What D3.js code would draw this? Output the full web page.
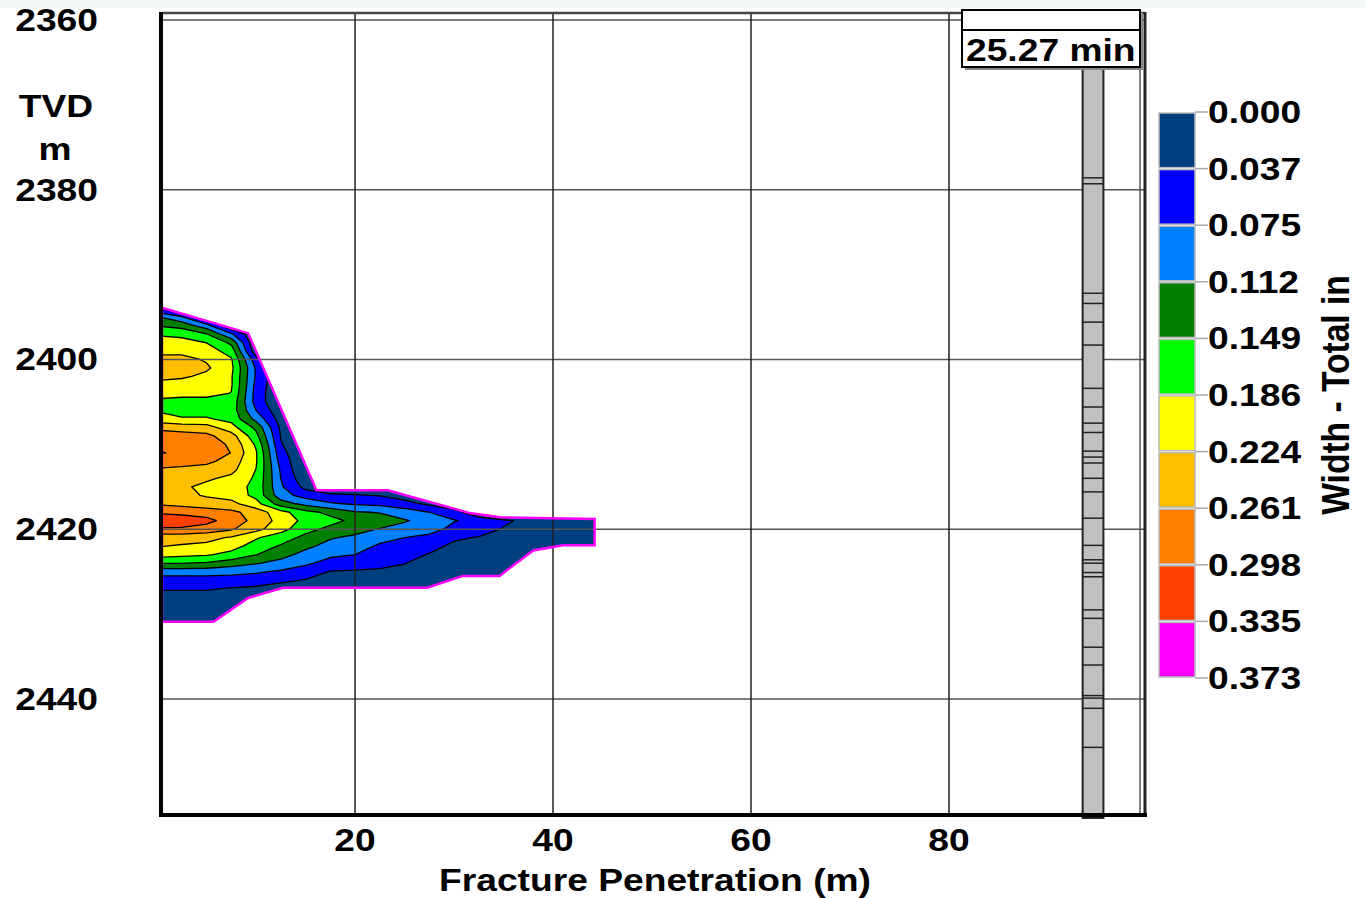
<!DOCTYPE html>
<html>
<head>
<meta charset="utf-8">
<script src="https://cdn.jsdelivr.net/npm/d3@7"></script>
<style>
body { margin: 0; background: #fff; }
text { font-family: "Liberation Sans", Arial, sans-serif; font-weight: bold; fill: #000; }
</style>
</head>
<body>
<svg id="chart" width="1365" height="899"></svg>
<script>
// fracture width grid: columns = penetration (m), rows = TVD (m), values = width (in)
const penetration = [0.5, 2.5, 5, 7.5, 10, 12.5, 15, 17.5, 20, 22.5, 25, 27.5, 30, 32.5, 35, 37.5, 40, 42.5, 45];
const tvdNodes = [2393, 2394, 2395, 2396, 2397, 2398, 2399, 2400, 2401, 2402, 2403, 2404, 2405, 2406, 2407, 2408, 2409, 2410, 2411, 2412,
  2413, 2414, 2415, 2416, 2417, 2418, 2419, 2420, 2421, 2422, 2423, 2424, 2425, 2426, 2427, 2428, 2429, 2430, 2431, 2432];
const widthGrid = [
  [0, 0, 0, 0, 0, 0, 0, 0, 0, 0, 0, 0, 0, 0, 0, 0, 0, 0, 0],
  [0.03, 0, 0, 0, 0, 0, 0, 0, 0, 0, 0, 0, 0, 0, 0, 0, 0, 0, 0],
  [0.11, 0.08, 0, 0, 0, 0, 0, 0, 0, 0, 0, 0, 0, 0, 0, 0, 0, 0, 0],
  [0.145, 0.135, 0.09, 0, 0, 0, 0, 0, 0, 0, 0, 0, 0, 0, 0, 0, 0, 0, 0],
  [0.18, 0.175, 0.15, 0.08, 0, 0, 0, 0, 0, 0, 0, 0, 0, 0, 0, 0, 0, 0, 0],
  [0.205, 0.2, 0.185, 0.14, 0, 0, 0, 0, 0, 0, 0, 0, 0, 0, 0, 0, 0, 0, 0],
  [0.215, 0.215, 0.205, 0.17, 0.01, 0, 0, 0, 0, 0, 0, 0, 0, 0, 0, 0, 0, 0, 0],
  [0.235, 0.235, 0.22, 0.19, 0.05, 0, 0, 0, 0, 0, 0, 0, 0, 0, 0, 0, 0, 0, 0],
  [0.25, 0.245, 0.23, 0.195, 0.07, 0, 0, 0, 0, 0, 0, 0, 0, 0, 0, 0, 0, 0, 0],
  [0.235, 0.23, 0.215, 0.19, 0.07, 0, 0, 0, 0, 0, 0, 0, 0, 0, 0, 0, 0, 0, 0],
  [0.21, 0.205, 0.205, 0.19, 0.065, 0, 0, 0, 0, 0, 0, 0, 0, 0, 0, 0, 0, 0, 0],
  [0.195, 0.195, 0.195, 0.185, 0.06, 0, 0, 0, 0, 0, 0, 0, 0, 0, 0, 0, 0, 0, 0],
  [0.18, 0.175, 0.175, 0.175, 0.06, 0, 0, 0, 0, 0, 0, 0, 0, 0, 0, 0, 0, 0, 0],
  [0.18, 0.17, 0.17, 0.17, 0.075, 0.01, 0, 0, 0, 0, 0, 0, 0, 0, 0, 0, 0, 0, 0],
  [0.2, 0.19, 0.19, 0.175, 0.1, 0.02, 0, 0, 0, 0, 0, 0, 0, 0, 0, 0, 0, 0, 0],
  [0.25, 0.245, 0.24, 0.2, 0.14, 0.03, 0, 0, 0, 0, 0, 0, 0, 0, 0, 0, 0, 0, 0],
  [0.28, 0.275, 0.27, 0.24, 0.16, 0.035, 0, 0, 0, 0, 0, 0, 0, 0, 0, 0, 0, 0, 0],
  [0.285, 0.285, 0.28, 0.255, 0.18, 0.04, 0, 0, 0, 0, 0, 0, 0, 0, 0, 0, 0, 0, 0],
  [0.3, 0.29, 0.285, 0.26, 0.19, 0.05, 0, 0, 0, 0, 0, 0, 0, 0, 0, 0, 0, 0, 0],
  [0.28, 0.28, 0.27, 0.245, 0.19, 0.06, 0, 0, 0, 0, 0, 0, 0, 0, 0, 0, 0, 0, 0],
  [0.255, 0.25, 0.245, 0.235, 0.185, 0.07, 0, 0, 0, 0, 0, 0, 0, 0, 0, 0, 0, 0, 0],
  [0.245, 0.24, 0.23, 0.215, 0.18, 0.075, 0.01, 0, 0, 0, 0, 0, 0, 0, 0, 0, 0, 0, 0],
  [0.24, 0.23, 0.215, 0.205, 0.175, 0.08, 0.025, 0, 0, 0, 0, 0, 0, 0, 0, 0, 0, 0, 0],
  [0.245, 0.235, 0.22, 0.21, 0.175, 0.09, 0.06, 0.045, 0.04, 0.035, 0.02, 0, 0, 0, 0, 0, 0, 0, 0],
  [0.255, 0.25, 0.24, 0.235, 0.2, 0.13, 0.1, 0.08, 0.07, 0.065, 0.05, 0.03, 0, 0, 0, 0, 0, 0, 0],
  [0.29, 0.285, 0.28, 0.27, 0.245, 0.2, 0.16, 0.14, 0.115, 0.11, 0.095, 0.075, 0.055, 0, 0, 0, 0, 0, 0],
  [0.33, 0.325, 0.31, 0.28, 0.25, 0.21, 0.175, 0.16, 0.14, 0.13, 0.115, 0.1, 0.077, 0.065, 0.042, 0.03, 0.025, 0.02, 0.02],
  [0.29, 0.29, 0.28, 0.265, 0.235, 0.2, 0.16, 0.14, 0.125, 0.11, 0.1, 0.088, 0.065, 0.05, 0.035, 0.025, 0.02, 0.02, 0.02],
  [0.24, 0.24, 0.235, 0.22, 0.19, 0.165, 0.14, 0.115, 0.105, 0.085, 0.075, 0.065, 0.042, 0.035, 0.025, 0.02, 0.02, 0.02, 0.02],
  [0.225, 0.22, 0.215, 0.2, 0.17, 0.145, 0.12, 0.1, 0.09, 0.07, 0.062, 0.048, 0.03, 0.025, 0.02, 0.02, 0.02, 0, 0],
  [0.2, 0.195, 0.19, 0.175, 0.15, 0.125, 0.1, 0.08, 0.075, 0.065, 0.05, 0.035, 0.025, 0.02, 0.02, 0, 0, 0, 0],
  [0.15, 0.15, 0.145, 0.13, 0.115, 0.1, 0.08, 0.065, 0.058, 0.05, 0.038, 0.025, 0.02, 0.02, 0.02, 0, 0, 0, 0],
  [0.09, 0.09, 0.09, 0.085, 0.08, 0.07, 0.06, 0.035, 0.032, 0.03, 0.03, 0.02, 0.02, 0.02, 0.02, 0, 0, 0, 0],
  [0.06, 0.06, 0.06, 0.06, 0.055, 0.045, 0.035, 0.03, 0.025, 0.025, 0.02, 0.02, 0, 0, 0, 0, 0, 0, 0],
  [0.04, 0.04, 0.04, 0.035, 0.03, 0.02, 0.02, 0.02, 0.02, 0.02, 0.02, 0, 0, 0, 0, 0, 0, 0, 0],
  [0.025, 0.025, 0.025, 0.02, 0, 0, 0, 0, 0, 0, 0, 0, 0, 0, 0, 0, 0, 0, 0],
  [0.02, 0.02, 0.02, 0.02, 0, 0, 0, 0, 0, 0, 0, 0, 0, 0, 0, 0, 0, 0, 0],
  [0.02, 0.02, 0.02, 0, 0, 0, 0, 0, 0, 0, 0, 0, 0, 0, 0, 0, 0, 0, 0],
  [0, 0, 0, 0, 0, 0, 0, 0, 0, 0, 0, 0, 0, 0, 0, 0, 0, 0, 0],
  [0, 0, 0, 0, 0, 0, 0, 0, 0, 0, 0, 0, 0, 0, 0, 0, 0, 0, 0]
];

// fracture outline (penetration m, TVD m)
const outlinePen = [0.5, 9.2, 16.1, 23.3, 31.6, 34.6, 44.2, 44.2, 41.0, 38.0, 34.6, 30.9, 27.3, 12.7, 9.2, 5.7, 0.5];
const outlineTvd = [2393.9, 2396.9, 2415.4, 2415.4, 2418.1, 2418.6, 2418.8, 2421.9, 2421.9, 2422.5, 2425.5, 2425.5, 2426.9, 2426.9, 2428.1, 2430.9, 2430.9];

// colour legend
const levels = [0.000, 0.037, 0.075, 0.112, 0.149, 0.186, 0.224, 0.261, 0.298, 0.335, 0.373];
const bandColors = ['#003f7f', '#0000ff', '#0080ff', '#007f00', '#00ff00', '#ffff00', '#ffbf00', '#ff8000', '#ff4000', '#ff00ff'];

// axes
const xTicks = [20, 40, 60, 80];
const yTicks = [2360, 2380, 2400, 2420, 2440];

// wellbore layer boundaries (TVD m)
const wellPen = [93.5, 95.6];
const layerTvd = [2378.6, 2379.3, 2392.2, 2393.4, 2395.6, 2398.3, 2403.4, 2405.6, 2407.5, 2408.6, 2410.8, 2411.5, 2412.2,
  2414.0, 2415.6, 2418.7, 2421.9, 2423.6, 2424.0, 2425.1, 2425.6, 2429.5, 2430.5, 2433.9, 2436.0, 2439.6, 2439.9, 2441.1, 2445.7];
const timeLabel = '25.27 min';

const svg = d3.select('#chart');
const x = d3.scaleLinear().domain([0.5, 99.8]).range([162, 1145]);
const y = d3.scaleLinear().domain([2359.06, 2453.67]).range([12, 815]);
const SX = 1.2; // glyphs in the original are stretched horizontally

function label(g, px, py, str, anchor, size) {
  return g.append('text')
    .attr('transform', 'translate(' + px + ',' + py + ') scale(' + SX + ',1)')
    .attr('text-anchor', anchor)
    .style('font-size', (size || 31) + 'px')
    .text(str);
}

svg.append('rect').attr('x', 0).attr('y', 0).attr('width', 1365).attr('height', 8).attr('fill', '#f2f8f7');

// fracture
const outline = outlinePen.map(function(p, i){ return [x(p), y(outlineTvd[i])]; });
svg.append('clipPath').attr('id', 'frac')
  .append('polygon').attr('points', outline.join(' '));

const frac = svg.append('g').attr('clip-path', 'url(#frac)');
frac.append('polygon').attr('points', outline.join(' ')).attr('fill', bandColors[0]);

const colAt = d3.scaleLinear().domain(d3.range(penetration.length)).range(penetration);
const rowAt = d3.scaleLinear().domain(d3.range(tvdNodes.length)).range(tvdNodes);
const gridToPx = d3.geoTransform({
  point: function(u, v){ this.stream.point(x(colAt(u - 0.5)), y(rowAt(v - 0.5))); }
});
const bands = d3.contours()
  .size([penetration.length, tvdNodes.length])
  .thresholds(levels.slice(1, 10))(widthGrid.flat());

frac.selectAll('path.band')
  .data(bands)
  .enter().append('path')
    .attr('class', 'band')
    .attr('d', d3.geoPath(gridToPx))
    .attr('fill', function(d, i){ return bandColors[i + 1]; })
    .attr('stroke', '#000')
    .attr('stroke-width', 1.3)
    .attr('stroke-linejoin', 'round');

// grid
const grid = svg.append('g');
grid.selectAll('line.h').data(yTicks).enter().append('line')
  .attr('x1', x(0.5)).attr('x2', x(99.8))
  .attr('y1', function(d){ return y(d); }).attr('y2', function(d){ return y(d); })
  .attr('stroke', '#555').attr('stroke-width', 1.5);
grid.selectAll('line.v').data(xTicks).enter().append('line')
  .attr('x1', function(d){ return x(d); }).attr('x2', function(d){ return x(d); })
  .attr('y1', y(2359.06)).attr('y2', y(2453.67))
  .attr('stroke', '#222').attr('stroke-width', 1.5);

svg.append('polygon').attr('points', outline.join(' '))
  .attr('fill', 'none').attr('stroke', '#ff00ff').attr('stroke-width', 2.5);

// wellbore
const well = svg.append('g');
well.append('rect')
  .attr('x', x(wellPen[0])).attr('y', 10)
  .attr('width', x(wellPen[1]) - x(wellPen[0])).attr('height', y(2453.67) + 3 - 10)
  .attr('fill', '#c0c0c0').attr('stroke', '#222').attr('stroke-width', 2);
well.selectAll('line').data(layerTvd).enter().append('line')
  .attr('x1', x(wellPen[0])).attr('x2', x(wellPen[1]))
  .attr('y1', function(d){ return y(d); }).attr('y2', function(d){ return y(d); })
  .attr('stroke', '#222').attr('stroke-width', 1.5);

// frame
svg.append('line').attr('x1', 162).attr('x2', 1145).attr('y1', 13).attr('y2', 13).attr('stroke', '#444').attr('stroke-width', 2.5);
svg.append('line').attr('x1', 1140).attr('x2', 1140).attr('y1', 12).attr('y2', 815).attr('stroke', '#555').attr('stroke-width', 1.5);
svg.append('line').attr('x1', 1145).attr('x2', 1145).attr('y1', 12).attr('y2', 817).attr('stroke', '#222').attr('stroke-width', 3);
svg.append('line').attr('x1', 161).attr('x2', 161).attr('y1', 12).attr('y2', 817).attr('stroke', '#000').attr('stroke-width', 4);
svg.append('line').attr('x1', 159).attr('x2', 1147).attr('y1', 815).attr('y2', 815).attr('stroke', '#000').attr('stroke-width', 4);

// time box
const box = svg.append('g');
box.append('rect').attr('x', 965).attr('y', 13).attr('width', 178).attr('height', 57).attr('fill', '#888');
box.append('rect').attr('x', 962).attr('y', 10).attr('width', 178).attr('height', 57)
  .attr('fill', '#fff').attr('stroke', '#000').attr('stroke-width', 2);
box.append('line').attr('x1', 962).attr('x2', 1140).attr('y1', 30).attr('y2', 30).attr('stroke', '#000').attr('stroke-width', 2);
label(box, 966, 61, timeLabel, 'start', 31);

// axis labels
const axes = svg.append('g');
yTicks.forEach(function(t){ label(axes, 98, y(t) + 11, String(t), 'end'); });
label(axes, 56, 117, 'TVD', 'middle');
label(axes, 55, 160, 'm', 'middle');
xTicks.forEach(function(t){ label(axes, x(t), 851, String(t), 'middle'); });
label(axes, 655, 891, 'Fracture Penetration (m)', 'middle');

// legend
const legY = d3.scaleLinear().domain([0, 10]).range([112, 678]);
const leg = svg.append('g');
leg.selectAll('rect').data(bandColors).enter().append('rect')
  .attr('x', 1159).attr('y', function(d, i){ return legY(i) + 1; })
  .attr('width', 36).attr('height', function(d, i){ return legY(i + 1) - legY(i) - 2; })
  .attr('fill', function(d){ return d; })
  .attr('stroke', '#bbb').attr('stroke-width', 1.5);
leg.selectAll('line').data(levels).enter().append('line')
  .attr('x1', 1195).attr('x2', 1208)
  .attr('y1', function(d, i){ return legY(i); }).attr('y2', function(d, i){ return legY(i); })
  .attr('stroke', '#aaa').attr('stroke-width', 1.5);
levels.forEach(function(v, i){ label(leg, 1208, legY(i) + 11, v.toFixed(3), 'start'); });
leg.append('text')
  .attr('transform', 'translate(1349,395) rotate(-90) scale(1.05,' + SX + ')')
  .attr('text-anchor', 'middle')
  .style('font-size', '32px')
  .text('Width - Total in');
</script>
</body>
</html>
